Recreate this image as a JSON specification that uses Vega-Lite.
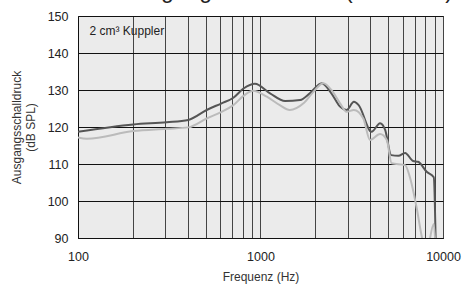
{
  "$schema": "https://vega.github.io/schema/vega-lite/v6.json",
  "width": 365,
  "height": 222,
  "autosize": {"type": "none"},
  "padding": {"left": 78, "top": 16, "right": 21, "bottom": 48},
  "background": "white",
  "title": {"text": "Maximaler Ausgangsschalldruck (OSPL 90)", "anchor": "start", "fontSize": 23, "font": "Liberation Sans", "fontWeight": "normal", "color": "#222", "baseline": "alphabetic", "offset": 0, "dy": 11},
  "config": {
    "view": {"fill": "#ebebeb", "stroke": "#333", "strokeWidth": 1},
    "font": "Liberation Sans"
  },
  "datasets": {
    "curves": [
      {"f": 100, "v": 118.7, "s": "dark"},
      {"f": 201, "v": 120.7, "s": "dark"},
      {"f": 306, "v": 121.3, "s": "dark"},
      {"f": 402, "v": 121.9, "s": "dark"},
      {"f": 507, "v": 124.6, "s": "dark"},
      {"f": 612, "v": 126.4, "s": "dark"},
      {"f": 710, "v": 127.9, "s": "dark"},
      {"f": 807, "v": 130.4, "s": "dark"},
      {"f": 932, "v": 131.7, "s": "dark"},
      {"f": 1128, "v": 129.1, "s": "dark"},
      {"f": 1364, "v": 127.0, "s": "dark"},
      {"f": 1649, "v": 127.3, "s": "dark"},
      {"f": 1862, "v": 129.1, "s": "dark"},
      {"f": 2165, "v": 131.8, "s": "dark"},
      {"f": 2446, "v": 129.1, "s": "dark"},
      {"f": 2729, "v": 125.5, "s": "dark"},
      {"f": 2961, "v": 124.6, "s": "dark"},
      {"f": 3250, "v": 126.8, "s": "dark"},
      {"f": 3450, "v": 125.9, "s": "dark"},
      {"f": 4060, "v": 118.7, "s": "dark"},
      {"f": 4520, "v": 121.0, "s": "dark"},
      {"f": 4820, "v": 119.2, "s": "dark"},
      {"f": 5200, "v": 112.4, "s": "dark"},
      {"f": 5700, "v": 112.2, "s": "dark"},
      {"f": 6200, "v": 113.0, "s": "dark"},
      {"f": 6860, "v": 110.8, "s": "dark"},
      {"f": 7300, "v": 110.6, "s": "dark"},
      {"f": 8140, "v": 107.9, "s": "dark"},
      {"f": 8900, "v": 106.4, "s": "dark"},
      {"f": 9150, "v": 85, "s": "dark"},
      {"f": 100, "v": 117.2, "s": "light"},
      {"f": 112, "v": 116.8, "s": "light"},
      {"f": 201, "v": 118.9, "s": "light"},
      {"f": 306, "v": 119.5, "s": "light"},
      {"f": 402, "v": 119.9, "s": "light"},
      {"f": 507, "v": 122.3, "s": "light"},
      {"f": 612, "v": 124.1, "s": "light"},
      {"f": 710, "v": 125.9, "s": "light"},
      {"f": 807, "v": 128.4, "s": "light"},
      {"f": 909, "v": 129.8, "s": "light"},
      {"f": 1083, "v": 128.2, "s": "light"},
      {"f": 1276, "v": 125.9, "s": "light"},
      {"f": 1447, "v": 124.6, "s": "light"},
      {"f": 1720, "v": 126.4, "s": "light"},
      {"f": 1950, "v": 129.5, "s": "light"},
      {"f": 2210, "v": 131.8, "s": "light"},
      {"f": 2446, "v": 130.0, "s": "light"},
      {"f": 2729, "v": 126.4, "s": "light"},
      {"f": 2961, "v": 124.1, "s": "light"},
      {"f": 3250, "v": 124.6, "s": "light"},
      {"f": 3660, "v": 122.3, "s": "light"},
      {"f": 3980, "v": 116.5, "s": "light"},
      {"f": 4520, "v": 118.1, "s": "light"},
      {"f": 4920, "v": 116.5, "s": "light"},
      {"f": 5230, "v": 110.2, "s": "light"},
      {"f": 6200, "v": 109.7, "s": "light"},
      {"f": 6570, "v": 106.6, "s": "light"},
      {"f": 7150, "v": 98.5, "s": "light"},
      {"f": 7680, "v": 90, "s": "light"},
      {"f": 8100, "v": 86, "s": "light"},
      {"f": 8900, "v": 93.8, "s": "light"},
      {"f": 9150, "v": 85, "s": "light"}
    ],
    "label": [{"f": 115.6, "v": 145.9, "t": "2 cm³ Kuppler"}]
  },
  "encoding": {
    "x": {
      "field": "f", "type": "quantitative",
      "scale": {"type": "log", "domain": [100, 10000], "nice": false},
      "axis": {
        "values": [100,200,300,400,500,600,700,800,900,1000,2000,3000,4000,5000,6000,7000,8000,9000,10000],
        "labelExpr": "datum.value == 100 || datum.value == 1000 || datum.value == 10000 ? '' + datum.value : ''",
        "labelOverlap": false, "labelFlush": false,
        "title": "Frequenz (Hz)", "titleFontSize": 12, "titleFontWeight": "normal", "titleColor": "#333", "titlePadding": 9,
        "labelFontSize": 12.5, "labelColor": "#222", "labelPadding": 12,
        "ticks": false, "domain": true, "domainColor": "#111",
        "grid": true, "gridColor": "#444", "gridOpacity": 1, "gridWidth": 1
      }
    },
    "y": {
      "field": "v", "type": "quantitative",
      "scale": {"domain": [90, 150], "nice": false, "zero": false},
      "axis": {
        "values": [90,100,110,120,130,140,150],
        "labelOverlap": false, "labelFlush": false,
        "title": ["Ausgangsschalldruck", "(dB SPL)"], "titleFontSize": 12, "titleFontWeight": "normal", "titleColor": "#333", "titlePadding": 10, "titleLineHeight": 14,
        "labelFontSize": 12.5, "labelColor": "#222", "labelPadding": 10,
        "ticks": false, "domain": true, "domainColor": "#111",
        "grid": true, "gridColor": "#111", "gridOpacity": 1, "gridWidth": 1
      }
    }
  },
  "layer": [
    {
      "data": {"name": "curves"},
      "mark": {"type": "line", "interpolate": "monotone", "strokeWidth": 2, "clip": true},
      "encoding": {
        "color": {
          "field": "s", "type": "nominal",
          "scale": {"domain": ["dark", "light"], "range": ["#555555", "#bbbbbb"]},
          "legend": null
        },
        "order": {"field": "f"}
      }
    },
    {
      "data": {"name": "label"},
      "mark": {"type": "text", "align": "left", "baseline": "middle", "fontSize": 12, "color": "#222"},
      "encoding": {
        "text": {"field": "t"}
      }
    }
  ]
}
